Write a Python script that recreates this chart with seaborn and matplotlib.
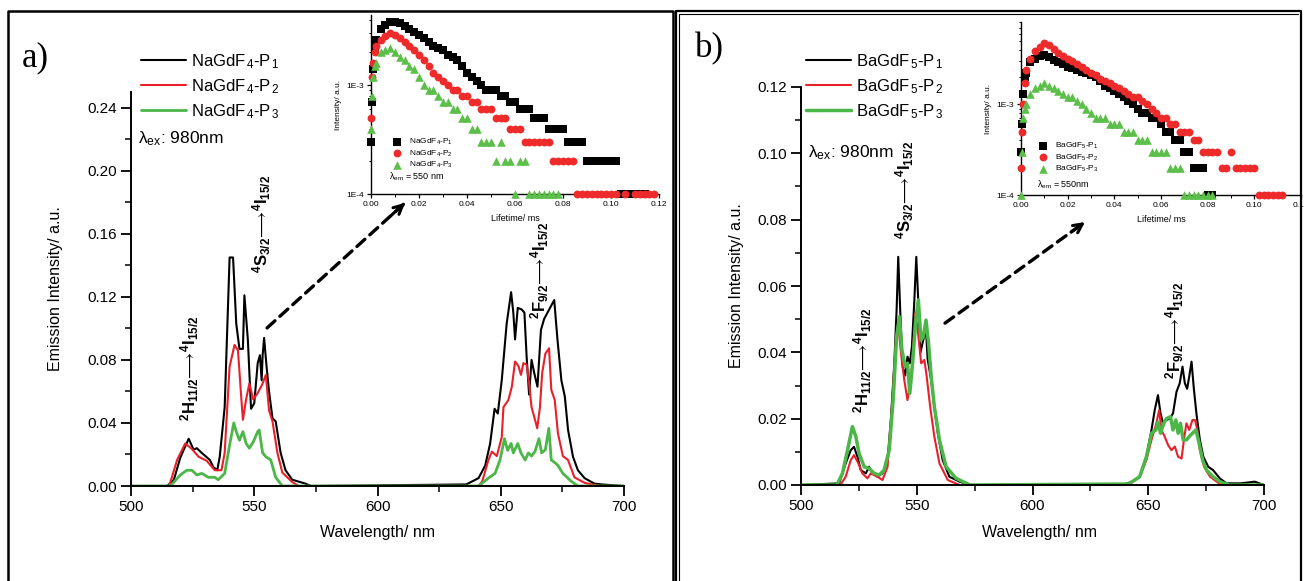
import numpy as np
import pandas as pd
import matplotlib
matplotlib.use("Agg")
import matplotlib.pyplot as plt
import seaborn as sns
from matplotlib.lines import Line2D
from matplotlib.ticker import (MultipleLocator, FixedLocator, FuncFormatter,
                               LogLocator, NullFormatter, FormatStrFormatter)

# ---------------- data: emission spectra ----------------
# panel a) NaGdF4
a_p1_wl = [500, 514.7, 517.4, 520, 523.4, 525.4, 526.7, 528.7, 532, 533.4, 535, 536, 538, 540, 541.4,
           542.7, 544, 545.4, 546, 547.4, 548.7, 550, 551.4, 552.3, 553, 553.4, 554, 555, 556, 557.4,
           558.7, 560.7, 562.7, 565.4, 570.8, 573, 636, 641, 643.7, 645.7, 647.5, 648.8, 650.4, 652.4,
           654.2, 655.1, 655.8, 656.9, 658.5, 659.6, 660.5, 661.5, 662.5, 663.6, 664.9, 666.3, 667.6,
           669.2, 671.7, 673, 674.6, 676, 677.3, 679.3, 681.3, 684, 688, 691, 700]
a_p1_int = [0, 0, 0.004, 0.018, 0.030, 0.023, 0.024, 0.021, 0.0165, 0.012, 0.010, 0.0186, 0.050, 0.145, 0.145,
            0.103, 0.087, 0.087, 0.121, 0.093, 0.049, 0.0525, 0.078, 0.083, 0.067, 0.083, 0.094, 0.0757, 0.060, 0.043,
            0.041, 0.021, 0.010, 0.004, 0.0015, 0, 0.001, 0.005, 0.013, 0.027, 0.049, 0.046, 0.067, 0.103,
            0.123, 0.110, 0.093, 0.113, 0.112, 0.110, 0.082, 0.058, 0.080, 0.0716, 0.063, 0.099, 0.106,
            0.1107, 0.118, 0.093, 0.067, 0.0567, 0.0356, 0.0186, 0.010, 0.005, 0.0015, 0.001, 0]

a_p2_wl = [500, 515.5, 518.7, 522, 524.7, 527.4, 530.7, 534, 536.7, 538, 540, 542, 543.4, 544.7, 545.4,
           546.7, 548, 549.6, 551.4, 553.4, 554.7, 556, 557.4, 559.4, 561.4, 565.4, 568, 641, 642.5, 645,
           646.4, 648.4, 650.4, 651.1, 653.1, 654.5, 655.8, 657.2, 658.2, 659.2, 660.5, 661.5, 662.5, 663.9,
           664.8, 665.9, 666.8, 668.1, 669.6, 670.5, 671.9, 673.2, 675.2, 677.3, 679.9, 684, 690, 700]
a_p2_int = [0, 0, 0.0165, 0.027, 0.0235, 0.0186, 0.016, 0.010, 0.010, 0.021, 0.0757, 0.0895, 0.086, 0.0567, 0.042,
            0.055, 0.065, 0.055, 0.059, 0.065, 0.0705, 0.048, 0.041, 0.021, 0.0085, 0.0025, 0, 0, 0.003, 0.0165,
            0.0218, 0.019, 0.031, 0.050, 0.0546, 0.063, 0.079, 0.076, 0.0705, 0.078, 0.077, 0.065, 0.050, 0.042,
            0.0366, 0.050, 0.0716, 0.084, 0.0874, 0.061, 0.0546, 0.0335, 0.019, 0.0165, 0.0055, 0.002, 0, 0]

a_p3_wl = [500, 516, 520, 522.7, 524.7, 526.7, 528.7, 531.4, 534, 535.4, 538, 540, 541.7, 542.7, 544,
           545.4, 546.7, 548, 549.6, 551.4, 552, 553.4, 554.7, 556.7, 558.7, 561.4, 641, 645, 647.7, 649.7,
           651.5, 652.8, 654.2, 655.1, 656.9, 658.2, 659.9, 661.2, 662.5, 663.9, 665.5, 666.6, 668.1, 669.5,
           670.5, 672.2, 673.2, 675.2, 678.6, 681.3, 700]
a_p3_int = [0, 0, 0.007, 0.010, 0.010, 0.007, 0.008, 0.0055, 0.0055, 0.004, 0.008, 0.026, 0.040, 0.0345, 0.029,
            0.0345, 0.027, 0.024, 0.028, 0.0345, 0.0355, 0.021, 0.0186, 0.0165, 0.0055, 0, 0, 0.005, 0.008, 0.0165,
            0.030, 0.0226, 0.027, 0.021, 0.027, 0.021, 0.0165, 0.021, 0.019, 0.022, 0.030, 0.021, 0.023, 0.0366,
            0.0165, 0.0145, 0.013, 0.008, 0.003, 0, 0]

# panel b) BaGdF5
b_p1_wl = [500, 516.5, 519.3, 521.5, 522.9, 524.4, 525.8, 528, 529.4, 530.9, 533, 535.2, 537.4, 538.8, 540.3,
           541.3, 542, 542.9, 543.9, 545, 546, 547, 547.9, 548.9, 549.8, 550.7, 551.5, 552.8, 554, 554.7,
           556.2, 557.6, 559.1, 561.2, 564.1, 568.5, 573, 639, 643, 646.3, 649.2, 651.4, 652.8, 654.2, 655.3,
           656.4, 657.8, 659.3, 660.7, 662.2, 663.6, 664.8, 665.8, 666.8, 667.7, 668.7, 669.7, 670.9, 672.3,
           673.8, 675.9, 678, 680.9, 683.8, 690, 696, 698, 700]
b_p1_int = [0, 0.0005, 0.0065, 0.0105, 0.0115, 0.0085, 0.0045, 0.0035, 0.0055, 0.0035, 0.0025, 0.0035, 0.0075, 0.0196, 0.0367,
            0.0528, 0.0688, 0.0518, 0.0357, 0.033, 0.0387, 0.0367, 0.0417, 0.0548, 0.0688, 0.0548, 0.0397, 0.0437, 0.0467, 0.038,
            0.0317, 0.0236, 0.0156, 0.0075, 0.0025, 0.001, 0, 0, 0.001, 0.0025, 0.0085, 0.0166, 0.0226, 0.0271, 0.0216,
            0.0186, 0.0196, 0.020, 0.0216, 0.0281, 0.0307, 0.0357, 0.0307, 0.029, 0.0327, 0.0372, 0.029, 0.021, 0.0136,
            0.0085, 0.0055, 0.0045, 0.002, 0.0005, 0.0005, 0.001, 0.0005, 0]

b_p2_wl = [500, 517, 519.3, 521.5, 522.9, 524.8, 526.5, 528.7, 530.1, 533, 535.2, 537.4, 539.5, 541, 542,
           543.2, 544.6, 546, 547.5, 548.6, 549.4, 550.4, 551.9, 553.3, 554.3, 555.8, 557.6, 559.8, 563.4, 568.5,
           641.5, 646.3, 649.2, 651.4, 653.5, 654.7, 655.7, 657.1, 658.6, 660, 661.5, 662.9, 664.4, 665.4,
           666.5, 667.7, 669.1, 670.2, 671.2, 672.3, 674.1, 676.7, 681, 685, 700]
b_p2_int = [0, 0, 0.0025, 0.0075, 0.009, 0.0065, 0.0035, 0.002, 0.0035, 0.0025, 0.0015, 0.0055, 0.0256, 0.0437, 0.0487,
            0.0397, 0.0317, 0.0256, 0.0317, 0.0427, 0.0518, 0.047, 0.0367, 0.0377, 0.0327, 0.0236, 0.0146, 0.0065, 0.0015, 0,
            0, 0.0025, 0.0075, 0.0136, 0.0186, 0.0226, 0.0166, 0.0146, 0.012, 0.0105, 0.0116, 0.0085, 0.008, 0.0136,
            0.0186, 0.0166, 0.0196, 0.0196, 0.0166, 0.0105, 0.0055, 0.0025, 0.0003, 0, 0]

b_p3_wl = [500, 515.5, 517.9, 520.1, 522.2, 523.7, 525.1, 527.3, 529.4, 531.6, 533.8, 535.9, 538.1, 539.9, 541.3,
           542.5, 543.6, 545, 546, 547, 548.2, 549.6, 550.7, 551.8, 552.8, 554, 555.1, 556.2, 557.6, 559.8,
           562.7, 567, 573, 641.5, 646.3, 649.2, 651.4, 653.3, 654.2, 655.3, 656.7, 657.8, 659.6, 660.7, 661.9,
           662.9, 663.9, 665.1, 666.5, 667.7, 669.1, 670.6, 672, 673.5, 675.2, 678, 681, 685, 700]
b_p3_int = [0, 0, 0.0035, 0.0105, 0.0176, 0.0146, 0.0095, 0.0055, 0.005, 0.0035, 0.003, 0.0045, 0.0105, 0.0266, 0.0447,
            0.0507, 0.0407, 0.0357, 0.0367, 0.0276, 0.0367, 0.0497, 0.0558, 0.0437, 0.0447, 0.0497, 0.0427, 0.033, 0.0236, 0.0136,
            0.0055, 0.002, 0, 0.0003, 0.0025, 0.0085, 0.0156, 0.0166, 0.019, 0.0156, 0.0186, 0.020, 0.0206, 0.0166, 0.0196,
            0.0156, 0.0186, 0.0136, 0.0136, 0.0146, 0.0156, 0.0166, 0.0125, 0.0075, 0.0045, 0.0025, 0.001, 0, 0]

# ---------------- data: decay curves (counts in units of 1E-4) ----------------
tau = [0.0, 0.0005, 0.001, 0.0015,
       0.002, 0.004, 0.006, 0.008, 0.010, 0.012, 0.014, 0.016, 0.018, 0.020,
       0.022, 0.024, 0.026, 0.028, 0.030, 0.032, 0.034, 0.036, 0.038, 0.040,
       0.042, 0.044, 0.046, 0.048, 0.050, 0.052, 0.054, 0.056, 0.058, 0.060,
       0.062, 0.064, 0.066, 0.068, 0.070, 0.072, 0.074, 0.076, 0.078, 0.080,
       0.082, 0.084, 0.086, 0.088, 0.090, 0.092, 0.094, 0.096, 0.098, 0.100,
       0.102, 0.104, 0.106, 0.108, 0.110, 0.112, 0.114, 0.116, 0.118, 0.120]

a_dec1 = [3, 7, 14, 22,
          26, 33, 36, 38, 38, 37, 35, 33, 31, 29,
          27, 25, 23, 22, 21, 19, 18, 17, 15, 13,
          12, 11, 10, 9, 9, 9, 8, 8, 7, 7,
          6, 6, 6, 5, 5, 5, 4, 4, 4, 4,
          3, 3, 3, 3, 2, 2, 2, 2, 2, 2,
          2, 1, 1, 1, 1, 1, 1, 0, 0, 0]
a_dec2 = [5, 12, 16, 20,
          23, 26, 28, 30, 29, 27, 25, 23, 21, 19,
          17, 15, 13, 12, 11, 10, 9, 9, 8, 8,
          7, 7, 6, 6, 6, 5, 5, 5, 4, 4,
          4, 3, 3, 3, 3, 3, 3, 2, 2, 2,
          2, 2, 1, 1, 1, 1, 1, 1, 1, 1,
          1, 0, 1, 0, 1, 1, 1, 1, 1, 0]
a_dec3 = [4, 8, 12, 15,
          16, 20, 21, 22, 20, 18, 17, 15, 14, 12,
          10, 9, 9, 8, 7, 7, 6, 6, 5, 5,
          4, 4, 3, 3, 3, 2, 3, 2, 2, 1,
          2, 2, 1, 1, 1, 1, 1, 1, 1, 0,
          0, 0, 0, 0, 0, 0, 0, 0, 0, 0,
          0, 0, 0, 0, 0, 0, 0, 0, 0, 0]

b_dec1 = [3, 6, 13, 20,
          22, 29, 32, 34, 35, 33, 31, 29, 28, 26,
          25, 24, 23, 22, 21, 20, 18, 16, 15, 14,
          13, 12, 11, 10, 9, 8, 8, 7, 7, 6,
          5, 5, 4, 4, 3, 3, 2, 2, 2, 1,
          1, 0, 0, 0, 0, 0, 0, 0, 0, 0,
          0, 0, 0, 0, 0, 0, 0, 0, 0, 0]
b_dec2 = [2, 5, 10, 17,
          24, 32, 39, 43, 47, 45, 41, 37, 34, 32,
          30, 28, 26, 24, 22, 21, 19, 18, 17, 16,
          15, 14, 13, 12, 12, 11, 10, 9, 8, 7,
          7, 6, 6, 5, 5, 5, 4, 4, 3, 3,
          3, 3, 2, 2, 3, 2, 2, 2, 2, 2,
          1, 1, 1, 1, 1, 1, 0, 0, 0, 0]
b_dec3 = [1, 3, 7, 9,
          10, 13, 15, 16, 17, 16, 15, 14, 13, 12,
          12, 11, 10, 9, 8, 7, 7, 7, 6, 6,
          6, 5, 5, 5, 4, 4, 4, 3, 3, 3,
          3, 2, 2, 2, 1, 1, 1, 1, 1, 1,
          1, 0, 0, 0, 0, 0, 0, 0, 0, 0,
          0, 0, 0, 0, 0, 0, 0, 0, 0, 0]

a_labels = ["NaGdF$_{\\,4}$-P$_{\\,1}$", "NaGdF$_{\\,4}$-P$_{\\,2}$", "NaGdF$_{\\,4}$-P$_{\\,3}$"]
b_labels = ["BaGdF$_{\\,5}$-P$_{\\,1}$", "BaGdF$_{\\,5}$-P$_{\\,2}$", "BaGdF$_{\\,5}$-P$_{\\,3}$"]

# ---------------- style ----------------
BLACK, RED, GREEN = "#000000", "#e8202a", "#4cb648"
sns.set_theme(style="ticks", rc={
    "text.color": "black", "axes.labelcolor": "black", "xtick.color": "black",
    "ytick.color": "black", "axes.edgecolor": "black"})
plt.rcParams['font.family'] = ['Liberation Sans', 'DejaVu Sans']
plt.rcParams['mathtext.fontset'] = 'custom'
plt.rcParams['mathtext.rm'] = 'Liberation Sans'
plt.rcParams['mathtext.it'] = 'Liberation Sans:italic'
plt.rcParams['mathtext.bf'] = 'Liberation Sans:bold'

W, H = 1304, 581
fig = plt.figure(figsize=(W / 100, H / 100), dpi=100)


def rect(x0, y0, x1, y1):
    return [x0 / W, 1 - y1 / H, (x1 - x0) / W, (y1 - y0) / H]


def fx(px):
    return px / W


def fy(py):
    return 1 - py / H


axA = fig.add_axes(rect(131, 92, 624, 486))
axB = fig.add_axes(rect(801, 87, 1264, 485))
insA = fig.add_axes(rect(371, 15, 659, 194.3))
insB = fig.add_axes(rect(1021, 22, 1301, 195))

# ---------------- spectra ----------------
specs = [
    (axA, [(a_p1_wl, a_p1_int, BLACK, 1.5), (a_p2_wl, a_p2_int, RED, 1.5), (a_p3_wl, a_p3_int, GREEN, 2.0)], a_labels),
    (axB, [(b_p1_wl, b_p1_int, BLACK, 1.5), (b_p2_wl, b_p2_int, RED, 1.5), (b_p3_wl, b_p3_int, GREEN, 2.5)], b_labels),
]
for ax, series, labels in specs:
    for (wl, it, col, lw), lab in zip(series, labels):
        df = pd.DataFrame({"wl": wl, "I": it})
        sns.lineplot(data=df, x="wl", y="I", ax=ax, color=col, lw=lw, label=lab,
                     estimator=None, sort=False)
    sns.despine(ax=ax)
    ax.set_xlim(500, 700)
    ax.xaxis.set_major_locator(MultipleLocator(50))
    ax.xaxis.set_minor_locator(MultipleLocator(25))
    ax.yaxis.set_major_formatter(FormatStrFormatter('%.2f'))
    ax.tick_params(which='major', direction='out', length=7, width=1.3, labelsize=11, pad=3)
    ax.tick_params(which='minor', direction='out', length=4, width=1.1)
    for s in ('left', 'bottom'):
        ax.spines[s].set_linewidth(1.4)
    ax.patch.set_alpha(0)
    ax.set_xlabel("Wavelength/ nm", fontsize=11.5)
    ax.set_ylabel("Emission Intensity/ a.u.", fontsize=11.5)

axA.set_ylim(0, 0.25)
axA.yaxis.set_major_locator(MultipleLocator(0.04))
axA.yaxis.set_minor_locator(MultipleLocator(0.02))
axB.set_ylim(0, 0.12)
axB.yaxis.set_major_locator(MultipleLocator(0.02))
axB.yaxis.set_minor_locator(MultipleLocator(0.01))

axA.yaxis.set_label_coords(-0.138, 0.5)
axA.xaxis.set_label_coords(0.50, -0.10)
axB.yaxis.set_label_coords(-0.123, 0.5)
axB.xaxis.set_label_coords(0.516, -0.10)

for ax, anchor in ((axA, (141, 52)), (axB, (806, 52))):
    h, l = ax.get_legend_handles_labels()
    ax.legend(h, l, loc='upper left', bbox_to_anchor=(fx(anchor[0]), fy(anchor[1])),
              bbox_transform=fig.transFigure, frameon=False, fontsize=12,
              handlelength=2.7, handletextpad=0.3, labelspacing=0.38,
              borderpad=0, borderaxespad=0)

fig.text(fx(138), fy(139), r"λ$_{\mathrm{ex}}$: 980nm", fontsize=12.5, va='center', ha='left')
fig.text(fx(808), fy(153), r"λ$_{\mathrm{ex}}$: 980nm", fontsize=12.5, va='center', ha='left')

# transition labels
lab_H = r"$\mathbf{{}^{2}H_{11/2}}\!\longrightarrow\!\mathbf{{}^{4}I_{15/2}}$"
lab_S = r"$\mathbf{{}^{4}S_{3/2}}\!\longrightarrow\!\mathbf{{}^{4}I_{15/2}}$"
lab_F = r"$\mathbf{{}^{2}F_{9/2}}\!\longrightarrow\!\mathbf{{}^{4}I_{15/2}}$"
for ax, pos in ((axA, [(523.9, 0.075, lab_H), (553.1, 0.166, lab_S), (665.9, 0.137, lab_F)]),
                (axB, [(526.8, 0.0377, lab_H), (544.9, 0.089, lab_S), (661.6, 0.0467, lab_F)])):
    for x, y, s in pos:
        ax.text(x, y, s, rotation=90, ha='center', va='center', fontsize=12)

# dashed arrows toward the insets
for ax, p0, p1 in ((axA, (555.2, 0.1003), (611.2, 0.1797)),
                   (axB, (562.2, 0.0488), (622.7, 0.0793))):
    ax.annotate('', xy=p1, xytext=p0,
                arrowprops=dict(arrowstyle='-', lw=2.4, ls=(0, (3.2, 2.0)), color='black',
                                shrinkA=0, shrinkB=0))
    tip0 = (p0[0] + (p1[0] - p0[0]) * 0.9, p0[1] + (p1[1] - p0[1]) * 0.9)
    ax.annotate('', xy=p1, xytext=tip0,
                arrowprops=dict(arrowstyle='->', lw=2.2, color='black', shrinkA=0, shrinkB=0,
                                mutation_scale=16))

# ---------------- decay insets ----------------
decays = [
    (insA, [a_dec1, a_dec2, a_dec3], ["NaGdF$_4$-P$_1$", "NaGdF$_4$-P$_2$", "NaGdF$_4$-P$_3$"], 4.4e-3),
    (insB, [b_dec1, b_dec2, b_dec3], ["BaGdF$_5$-P$_1$", "BaGdF$_5$-P$_2$", "BaGdF$_5$-P$_3$"], 8.1e-3),
]
styles = [("s", BLACK, 30), ("o", "#ee2a2a", 32), ("^", "#5cbf4a", 38)]
for ins, counts, labels, ytop in decays:
    ins.set_yscale('log')
    for cnt, (mk, col, sz), lab in zip(counts, styles, labels):
        t = [tt for tt, c in zip(tau, cnt) if c > 0]
        v = [c * 1e-4 for c in cnt if c > 0]
        sns.scatterplot(x=t, y=v, ax=ins, marker=mk, color=col, s=sz, linewidth=0,
                        label=lab, clip_on=False, zorder=3)
    sns.despine(ax=ins)
    ins.set_xlim(0, 0.12)
    ins.set_ylim(1e-4, ytop)
    ins.xaxis.set_major_locator(MultipleLocator(0.02))
    ins.xaxis.set_minor_locator(MultipleLocator(0.01))
    ins.xaxis.set_major_formatter(FormatStrFormatter('%.2f'))
    ins.yaxis.set_major_locator(FixedLocator([1e-4, 1e-3]))
    ins.yaxis.set_major_formatter(FuncFormatter(lambda v, p: "1E%d" % int(round(np.log10(v)))))
    ins.yaxis.set_minor_locator(LogLocator(base=10, subs=range(2, 10)))
    ins.yaxis.set_minor_formatter(NullFormatter())
    ins.tick_params(which='major', direction='out', length=3, width=0.9, labelsize=6, pad=2)
    ins.tick_params(which='minor', direction='out', length=1.8, width=0.7)
    for s in ('left', 'bottom'):
        ins.spines[s].set_linewidth(1.0)
    ins.patch.set_alpha(0)
    ins.set_xlabel("Lifetime/ ms", fontsize=6.5, labelpad=4)
    ins.set_ylabel("Intensity/ a.u.", fontsize=6, labelpad=3)

insA.legend(loc='upper left', bbox_to_anchor=(fx(392), fy(137)), bbox_transform=fig.transFigure,
            frameon=False, fontsize=6, handletextpad=0.8, labelspacing=0.15, borderpad=0,
            borderaxespad=0, handlelength=1.2)
insB.legend(loc='upper left', bbox_to_anchor=(fx(1038), fy(141)), bbox_transform=fig.transFigure,
            frameon=False, fontsize=6, handletextpad=0.8, labelspacing=0.15, borderpad=0,
            borderaxespad=0, handlelength=1.2)
fig.text(fx(389), fy(177), r"λ$_{\mathrm{em}}$ = 550 nm", fontsize=6.5, va='center')
fig.text(fx(1037), fy(185), r"λ$_{\mathrm{em}}$ = 550nm", fontsize=6.5, va='center')

# ---------------- panel frames & letters ----------------
def fline(xs, ys, lw=1.8):
    fig.add_artist(Line2D([fx(x) for x in xs], [fy(y) for y in ys], color='black', lw=lw,
                          transform=fig.transFigure))

fline([8, 8, 673, 673], [582, 11, 11, 582], lw=1.8)
fline([676, 676, 1301, 1301], [582, 11, 11, 582], lw=1.6)
fline([679, 679, 1298], [582, 14, 14], lw=0.8)

fig.text(fx(22), fy(58), "a)", family=['Liberation Serif'], fontsize=25, va='center', ha='left')
fig.text(fx(695), fy(49), "b)", family=['Liberation Serif'], fontsize=25, va='center', ha='left')

fig.savefig("out.png", dpi=100)
